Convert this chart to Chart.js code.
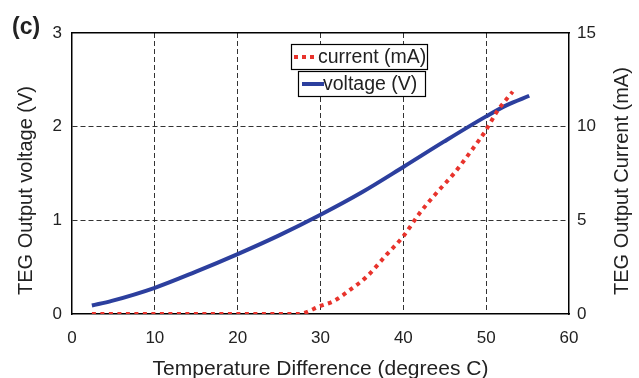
<!DOCTYPE html>
<html>
<head>
<meta charset="utf-8">
<script src="https://cdn.jsdelivr.net/npm/chart.js@4"></script>
<style>
  html, body { margin: 0; padding: 0; background: #fff; }
  #wrap { width: 639px; height: 378px; position: relative; }
</style>
</head>
<body>
<div id="wrap"><canvas id="tegChart"></canvas></div>
<script>
// temperature difference (degrees C) and voltage (V)
const tempV = [2.4, 4.8, 10, 14.9, 20, 25, 30, 35, 40, 44.9, 50, 52.5, 55.2];
const voltage = [0.09, 0.14, 0.28, 0.45, 0.64, 0.84, 1.06, 1.3, 1.57, 1.84, 2.11, 2.23, 2.33];
// temperature difference (degrees C) and current (mA)
const tempI = [2.4, 10, 20, 27.3, 30, 31.6, 33.6, 35.6, 38, 40, 42, 44, 46, 48.3, 50, 51.3, 53.2];
const current = [0, 0, 0, 0, 0.43, 0.69, 1.3, 2.0, 3.18, 4.15, 5.4, 6.46, 7.44, 8.77, 9.83, 10.8, 11.87];
const xTicks = [0, 10, 20, 30, 40, 50, 60];
const voltTicks = [0, 1, 2, 3];
const currTicks = [0, 5, 10, 15];

const BLUE = '#2c3f9e';
const RED = '#e8332c';
const FONT = 'Liberation Sans, Arial, sans-serif';

function pairs(xs, ys) {
    return xs.map((x, i) => ({ x: x, y: ys[i] }));
}

// titles, panel label and the two boxed legend entries
const decorations = {
    id: 'decorations',
    afterDraw(chart) {
        const ctx = chart.ctx;
        const area = chart.chartArea;
        ctx.save();
        ctx.fillStyle = '#222';
        ctx.textAlign = 'center';
        ctx.textBaseline = 'alphabetic';
        ctx.font = '21px ' + FONT;
        ctx.fillText('Temperature Difference (degrees C)', (area.left + area.right) / 2, 375);

        // rotated axis titles, both read bottom to top
        ctx.font = '20px ' + FONT;
        ctx.textAlign = 'left';
        ctx.save();
        ctx.translate(32, 295);
        ctx.rotate(-Math.PI / 2);
        ctx.fillText('TEG Output voltage (V)', 0, 0);
        ctx.restore();

        ctx.save();
        ctx.translate(628, 295);
        ctx.rotate(-Math.PI / 2);
        ctx.fillText('TEG Output Current (mA)', 0, 0);
        ctx.restore();

        ctx.font = 'bold 23px ' + FONT;
        ctx.fillText('(c)', 12, 34);

        // legend boxes
        ctx.lineWidth = 1.2;
        ctx.strokeStyle = '#000';
        ctx.fillStyle = '#fff';
        ctx.fillRect(291.5, 44.5, 136, 25);
        ctx.strokeRect(291.5, 44.5, 136, 25);
        ctx.fillRect(298.5, 71.5, 127, 25);
        ctx.strokeRect(298.5, 71.5, 127, 25);

        ctx.lineWidth = 4;
        ctx.strokeStyle = RED;
        ctx.setLineDash([4, 4]);
        ctx.beginPath();
        ctx.moveTo(294, 57);
        ctx.lineTo(318, 57);
        ctx.stroke();
        ctx.setLineDash([]);
        ctx.lineWidth = 4;
        ctx.strokeStyle = BLUE;
        ctx.beginPath();
        ctx.moveTo(302, 84);
        ctx.lineTo(324, 84);
        ctx.stroke();

        ctx.font = '19.5px ' + FONT;
        ctx.textBaseline = 'middle';
        ctx.fillStyle = '#222';
        ctx.fillText('current (mA)', 318, 57.5);
        ctx.fillText('voltage (V)', 323, 84.5);
        ctx.restore();
    }
};

new Chart(document.getElementById('tegChart'), {
    type: 'line',
    data: {
        datasets: [{
            label: 'current (mA)',
            data: pairs(tempI, current),
            yAxisID: 'y2',
            borderColor: RED,
            borderWidth: 4,
            borderDash: [4, 4.5],
            pointRadius: 0,
            cubicInterpolationMode: 'monotone',
            fill: false
        }, {
            label: 'voltage (V)',
            data: pairs(tempV, voltage),
            yAxisID: 'y',
            borderColor: BLUE,
            borderWidth: 4,
            pointRadius: 0,
            cubicInterpolationMode: 'monotone',
            fill: false
        }]
    },
    options: {
        responsive: true,
        maintainAspectRatio: false,
        animation: false,
        layout: { padding: { top: 33, left: 0, right: 0, bottom: 0 } },
        plugins: {
            legend: { display: false },
            tooltip: { enabled: false }
        },
        scales: {
            x: {
                type: 'linear',
                min: 0,
                max: 60,
                afterFit: s => { s.height = 64; },
                afterBuildTicks: s => { s.ticks = xTicks.map(v => ({ value: v })); },
                border: { color: '#000', width: 1.5, dash: [5, 3] },
                grid: {
                    color: c => (c.tick.value === 0 || c.tick.value === 60) ? 'rgba(0,0,0,0)' : '#333',
                    drawTicks: false
                },
                ticks: { color: '#222', padding: 14, font: { size: 17, family: FONT }, maxRotation: 0 }
            },
            y: {
                position: 'left',
                min: 0,
                max: 3,
                afterFit: s => { s.width = 72; },
                afterBuildTicks: s => { s.ticks = voltTicks.map(v => ({ value: v })); },
                border: { color: '#000', width: 1.5, dash: [5, 3] },
                grid: {
                    color: c => (c.tick.value === 0 || c.tick.value === 3) ? 'rgba(0,0,0,0)' : '#333',
                    drawTicks: false
                },
                ticks: { color: '#222', padding: 10, font: { size: 17, family: FONT } }
            },
            y2: {
                position: 'right',
                min: 0,
                max: 15,
                afterFit: s => { s.width = 70; },
                afterBuildTicks: s => { s.ticks = currTicks.map(v => ({ value: v })); },
                border: { color: '#000', width: 1.5 },
                grid: { display: false, drawTicks: false },
                ticks: { color: '#222', padding: 8, font: { size: 17, family: FONT } }
            },
            xTop: {
                position: 'top',
                type: 'linear',
                min: 0,
                max: 60,
                afterFit: s => { s.height = 0; },
                border: { color: '#000', width: 1.5 },
                grid: { display: false, drawTicks: false },
                ticks: { display: false }
            }
        }
    },
    plugins: [decorations]
});
</script>
</body>
</html>
